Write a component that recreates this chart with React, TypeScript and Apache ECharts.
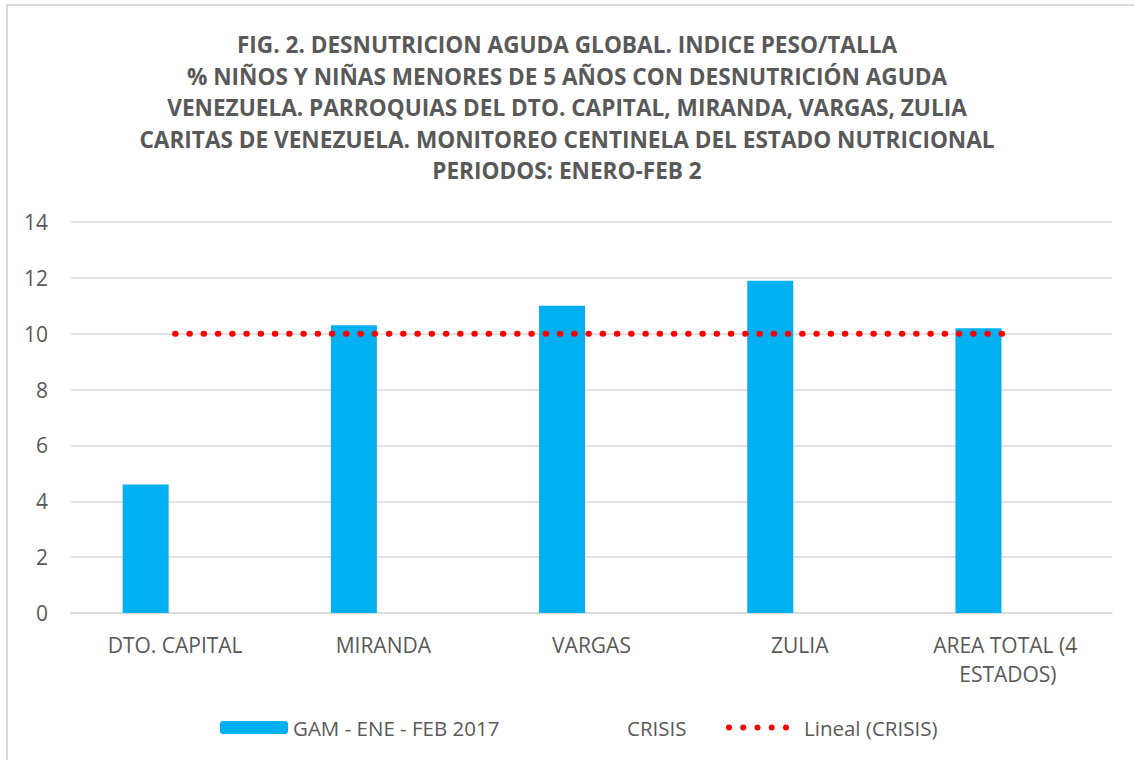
import React, { useEffect, useRef } from "react";
import * as echarts from "echarts";

const titleLines = [
  "FIG. 2. DESNUTRICION AGUDA GLOBAL. INDICE PESO/TALLA",
  "% NIÑOS Y NIÑAS MENORES DE 5 AÑOS CON DESNUTRICIÓN AGUDA",
  "VENEZUELA. PARROQUIAS DEL DTO. CAPITAL, MIRANDA, VARGAS, ZULIA",
  "CARITAS DE VENEZUELA. MONITOREO CENTINELA DEL ESTADO NUTRICIONAL",
  "PERIODOS: ENERO-FEB 2",
];
const categories = ["DTO. CAPITAL", "MIRANDA", "VARGAS", "ZULIA", "AREA TOTAL (4 ESTADOS)"];
const gamName = "GAM - ENE - FEB 2017";
const gamValues = [4.6, 10.3, 11.0, 11.9, 10.2];
const crisisName = "CRISIS";
const crisisValues = [10, 10, 10, 10, 10];
const trendName = "Lineal (CRISIS)";
const trendValues = [10, 10, 10, 10, 10];

const FONT = "'Open Sans', sans-serif";
const GREY = "#595959";

function dot(cx: number) {
  return `M${cx - 3},3a3,3 0 1,0 6,0a3,3 0 1,0 -6,0Z`;
}
const dottedIcon = "path://" + [3, 17.25, 31.5, 45.75, 60].map(dot).join("");

export default function App() {
  const ref = useRef<HTMLDivElement>(null);
  useEffect(() => {
    if (!ref.current) return;
    const chart = echarts.init(ref.current, null, { renderer: "svg" });
    chart.setOption({
      animation: false,
      backgroundColor: "#ffffff",
      textStyle: { fontFamily: FONT },
      title: {
        text: titleLines.join("\n"),
        left: "center",
        top: 29,
        padding: 0,
        textStyle: {
          fontFamily: FONT,
          fontWeight: "bold",
          fontSize: 22.6,
          lineHeight: 31.5,
          color: GREY,
        },
      },
      graphic: [
        {
          type: "rect",
          shape: { x: 7, y: 5, width: 1200, height: 800 },
          style: { fill: "none", stroke: "#d9d9d9", lineWidth: 2 },
          silent: true,
        },
      ],
      legend: [
        {
          data: [gamName],
          left: 215,
          top: 712,
          itemWidth: 68,
          itemHeight: 13,
          itemGap: 0,
          textStyle: { fontFamily: FONT, fontSize: 20.5, color: GREY },
          selectedMode: false,
        },
        {
          data: [crisisName],
          left: 549,
          top: 712,
          itemWidth: 68,
          itemHeight: 13,
          textStyle: { fontFamily: FONT, fontSize: 20.5, color: GREY },
          selectedMode: false,
        },
        {
          data: [{ name: trendName, icon: dottedIcon }],
          left: 721,
          top: 712,
          itemWidth: 63,
          itemHeight: 6,
          textStyle: { fontFamily: FONT, fontSize: 20.5, color: GREY, padding: [0, 0, 0, 10] },
          selectedMode: false,
        },
      ],
      grid: { left: 71, right: 22, top: 222, bottom: 147, containLabel: false },
      xAxis: {
        type: "category",
        data: categories,
        axisLine: { lineStyle: { color: "#d9d9d9", width: 1.5 } },
        axisTick: { show: false },
        axisLabel: {
          color: GREY,
          fontFamily: FONT,
          fontSize: 21,
          lineHeight: 29,
          margin: 17,
          width: 180,
          overflow: "break",
          interval: 0,
        },
      },
      yAxis: {
        type: "value",
        min: 0,
        max: 14,
        interval: 2,
        axisLine: { show: false },
        axisTick: { show: false },
        splitLine: { lineStyle: { color: "#d9d9d9", width: 1.5 } },
        axisLabel: { color: GREY, fontFamily: FONT, fontSize: 21, margin: 23 },
      },
      series: [
        {
          name: gamName,
          type: "bar",
          data: gamValues,
          barWidth: 46,
          barGap: "28%",
          itemStyle: { color: "#00B0F0" },
        },
        {
          name: crisisName,
          type: "bar",
          data: crisisValues,
          barWidth: 46,
          itemStyle: { color: "rgba(0,0,0,0)" },
        },
        {
          name: trendName,
          type: "line",
          data: trendValues,
          symbol: "none",
          z: 5,
          itemStyle: { color: "#ff0000" },
          lineStyle: { color: "#ff0000", width: 6, type: [0.5, 13.75], cap: "round" },
        },
      ],
    });
    return () => chart.dispose();
  }, []);
  return (
    <div
      ref={ref}
      style={{ position: "absolute", left: 0, top: 0, width: 1134, height: 760 }}
    />
  );
}
